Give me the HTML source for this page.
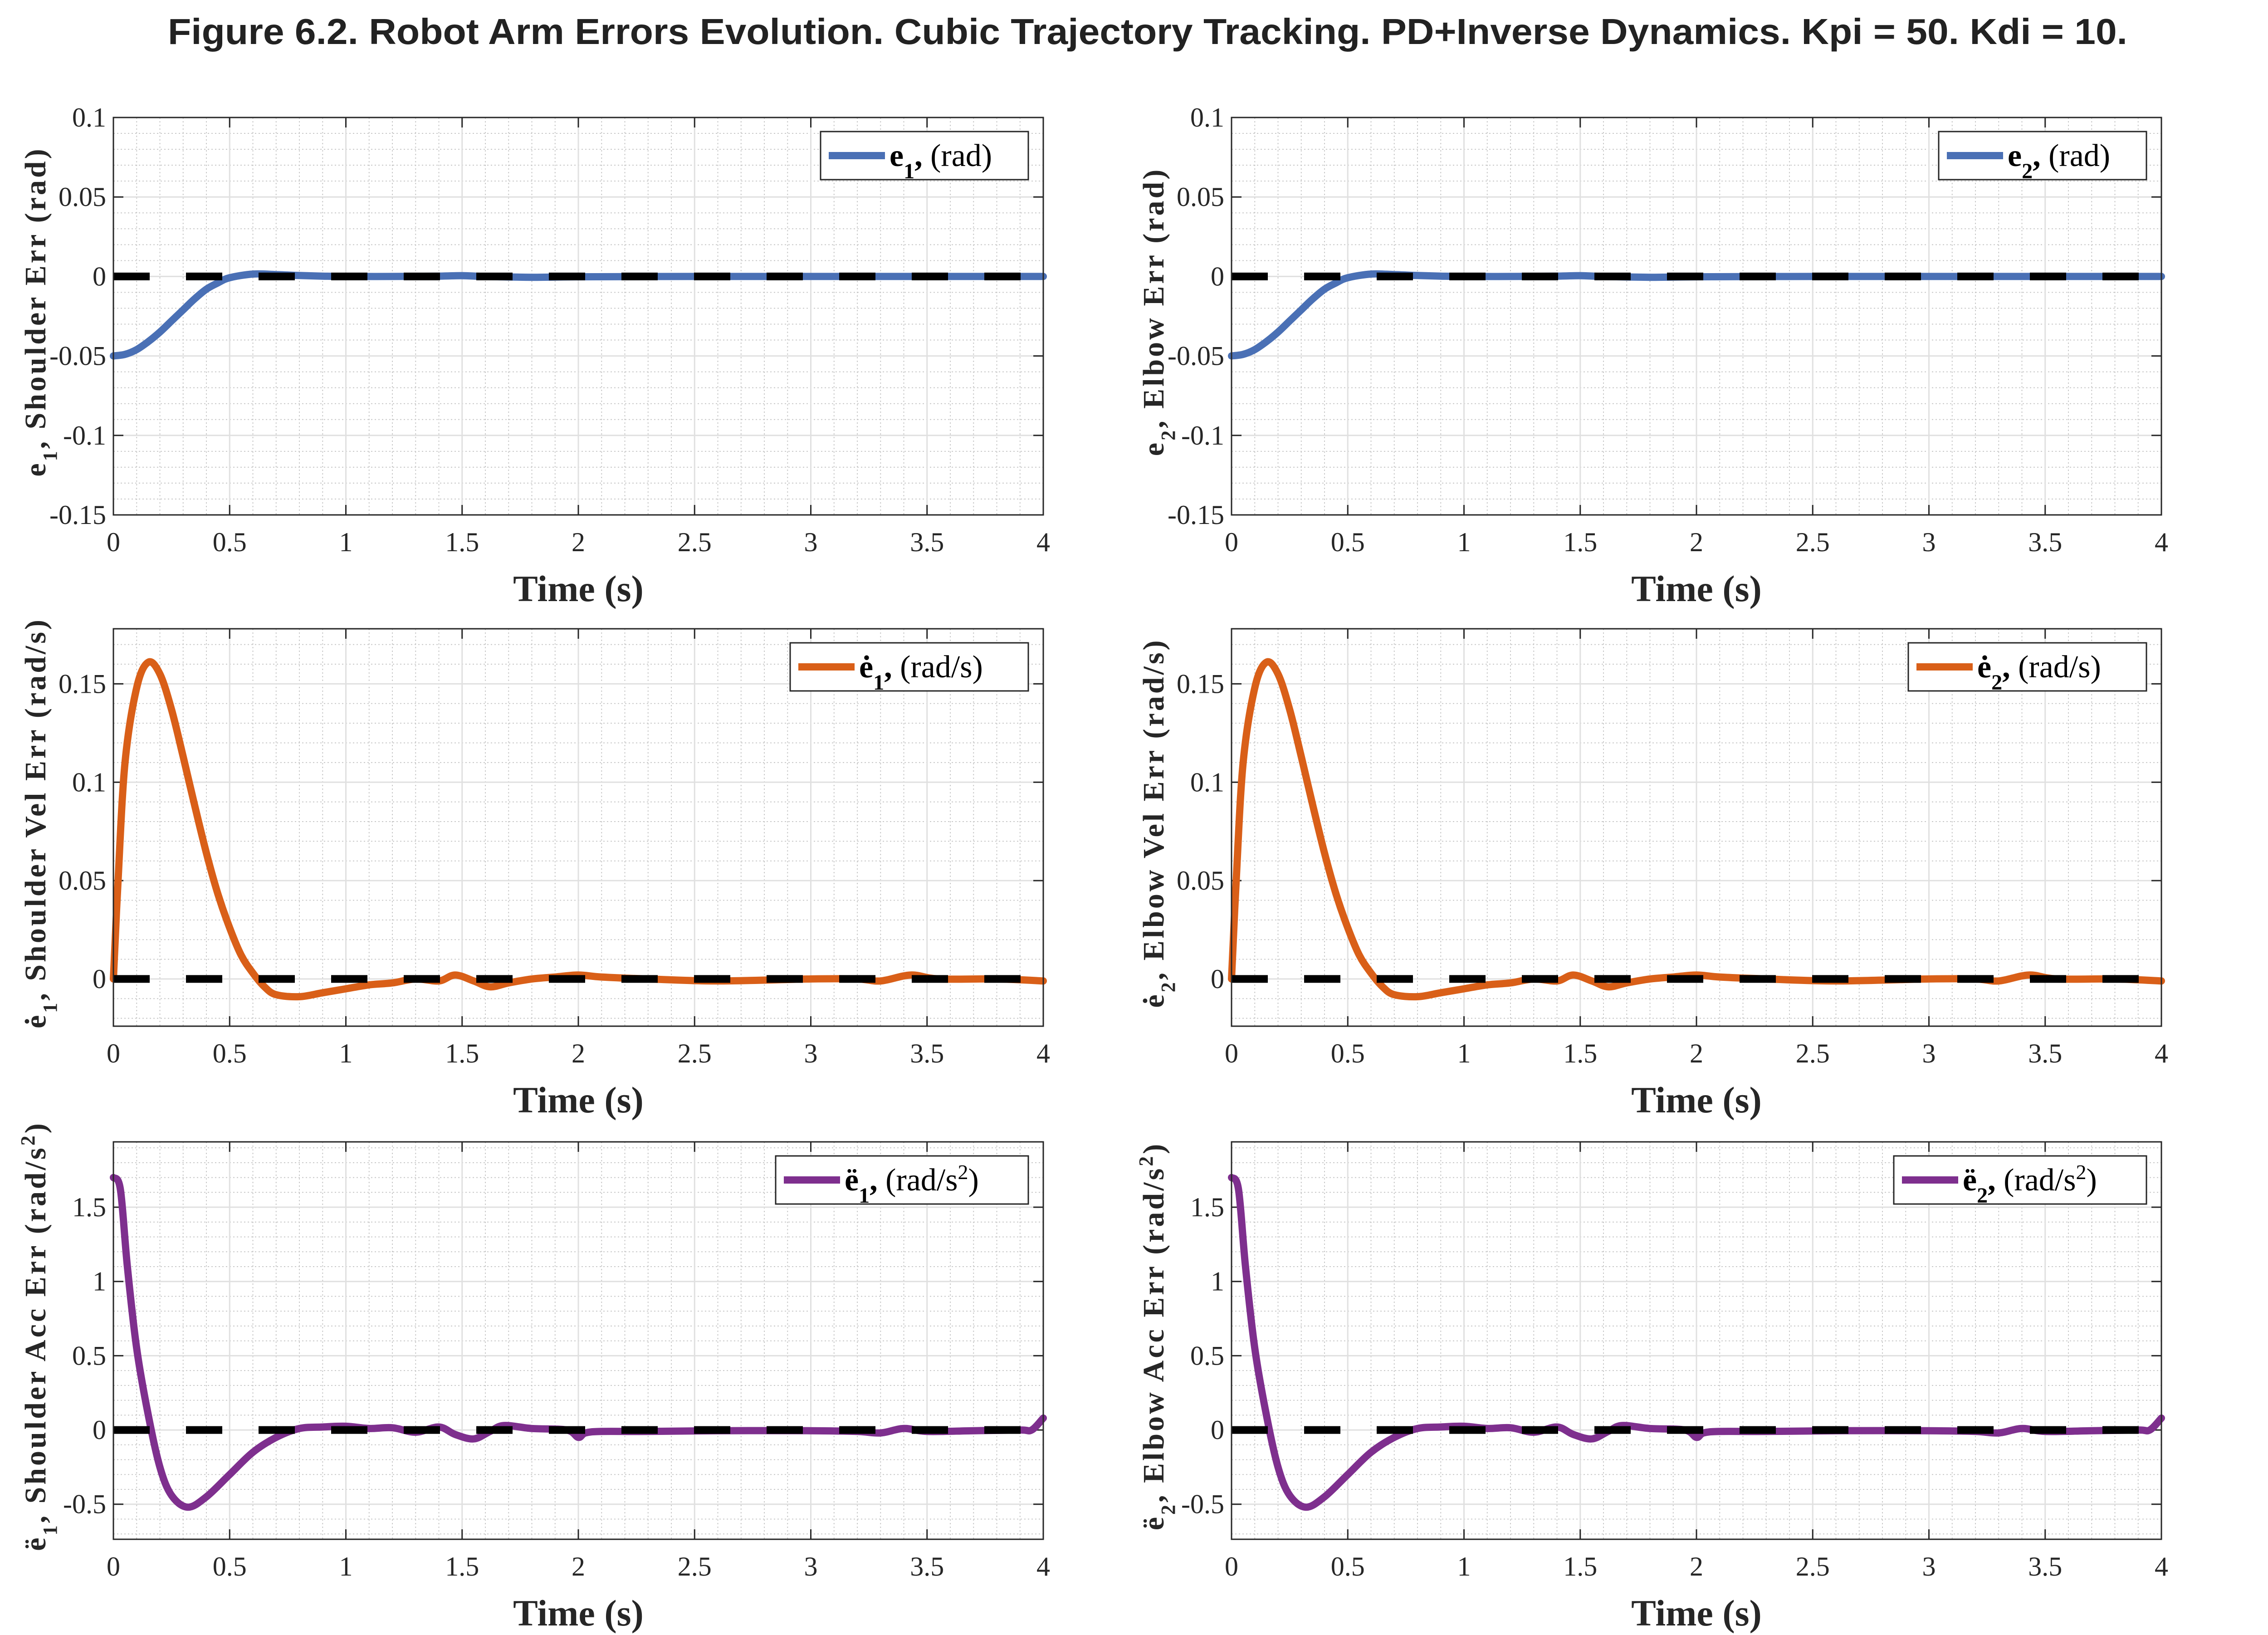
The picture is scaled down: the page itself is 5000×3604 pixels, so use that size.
<!DOCTYPE html>
<html><head><meta charset="utf-8"><style>
html,body{margin:0;padding:0;background:#fff}
svg{display:block}
</style></head><body>
<svg id="fig" width="5000" height="3604" viewBox="0 0 5000 3604" xmlns="http://www.w3.org/2000/svg">
<rect width="5000" height="3604" fill="#fff"/>
<text x="2530" y="97" text-anchor="middle" font-family="Liberation Sans, sans-serif" font-weight="bold" font-size="80" fill="#222" textLength="4320" lengthAdjust="spacingAndGlyphs">Figure 6.2. Robot Arm Errors Evolution. Cubic Trajectory Tracking. PD+Inverse Dynamics. Kpi = 50. Kdi = 10.</text>
</svg>
<script>
// ---- data ----
const posTime = [0,0.05,0.1,0.15,0.2,0.25,0.3,0.35,0.4,0.45,0.5,0.6,0.7,0.8,0.9,1.0,1.2,1.4,1.5,1.6,1.8,2.0,2.5,3.0,3.5,4.0];
const posErr  = [-0.05,-0.049,-0.046,-0.041,-0.035,-0.028,-0.021,-0.014,-0.008,-0.004,-0.0008,0.0015,0.0012,0.0006,0.0002,0,0,0.0002,0.0005,0,-0.0005,-0.0002,0,0,0,0];
const velTime = [0,0.02,0.05,0.1,0.15,0.2,0.25,0.3,0.35,0.4,0.45,0.5,0.55,0.6,0.65,0.7,0.8,0.9,1.0,1.1,1.2,1.3,1.4,1.47,1.55,1.62,1.7,1.8,1.9,2.0,2.1,2.3,2.6,3.0,3.2,3.3,3.43,3.55,3.8,4.0];
const velErr  = [0,0.05,0.11,0.148,0.161,0.155,0.137,0.113,0.088,0.064,0.043,0.026,0.012,0.003,-0.004,-0.008,-0.009,-0.007,-0.005,-0.003,-0.002,0,-0.001,0.002,-0.001,-0.004,-0.002,0,0.001,0.002,0.001,0,-0.001,0,0,-0.001,0.002,0,0,-0.001];
const accTime = [0,0.03,0.06,0.1,0.15,0.2,0.25,0.32,0.4,0.5,0.6,0.7,0.8,0.9,1.0,1.1,1.2,1.3,1.4,1.47,1.55,1.62,1.68,1.8,1.95,2.0,2.03,2.1,2.3,2.6,3.0,3.2,3.3,3.4,3.5,3.7,3.9,3.95,4.0];
const accErr  = [1.7,1.62,1.1,0.55,0.1,-0.25,-0.44,-0.52,-0.45,-0.3,-0.15,-0.05,0.01,0.02,0.025,0.01,0.015,-0.015,0.02,-0.03,-0.06,-0.01,0.03,0.01,0.0,-0.05,-0.02,-0.01,-0.01,-0.005,-0.005,-0.01,-0.02,0.01,-0.01,-0.005,0.0,0.0,0.08];
const xTicks = [0,0.5,1,1.5,2,2.5,3,3.5,4];
const xTickLabels = ["0","0.5","1","1.5","2","2.5","3","3.5","4"];
const posTicks = [-0.15,-0.1,-0.05,0,0.05,0.1];
const posTickLabels = ["-0.15","-0.1","-0.05","0","0.05","0.1"];
const velTicks = [0,0.05,0.1,0.15];
const velTickLabels = ["0","0.05","0.1","0.15"];
const accTicks = [-0.5,0,0.5,1,1.5];
const accTickLabels = ["-0.5","0","0.5","1","1.5"];

const NS="http://www.w3.org/2000/svg";
const svg=document.getElementById('fig');
function mk(tag,attrs,parent){const e=document.createElementNS(NS,tag);for(const k in attrs)e.setAttribute(k,attrs[k]);(parent||svg).appendChild(e);return e;}

function crPath(pts){
  let d="M"+pts[0][0].toFixed(1)+","+pts[0][1].toFixed(1);
  for(let i=0;i<pts.length-1;i++){
    const p0=pts[Math.max(i-1,0)],p1=pts[i],p2=pts[i+1],p3=pts[Math.min(i+2,pts.length-1)];
    const c1x=p1[0]+(p2[0]-p0[0])/6,c1y=p1[1]+(p2[1]-p0[1])/6;
    const c2x=p2[0]-(p3[0]-p1[0])/6,c2y=p2[1]-(p3[1]-p1[1])/6;
    d+=" C"+c1x.toFixed(1)+","+c1y.toFixed(1)+" "+c2x.toFixed(1)+","+c2y.toFixed(1)+" "+p2[0].toFixed(1)+","+p2[1].toFixed(1);
  }
  return d;
}

function panel(o){
  const g=mk('g',{});
  
  
  const L=o.x,T=o.y,W=o.w,H=o.h;
  const sx=v=>L+v/4*W;
  const sy=v=>T+H-(v-o.ymin)/(o.ymax-o.ymin)*H;
  for(let k=1;k<40;k++){ if(k%5===0)continue; const x=sx(k*0.1);
    const l=mk('line',{x1:x,x2:x,y1:T,y2:T+H,stroke:'#c8c8c8','stroke-width':2,'stroke-dasharray':'3 5'},g);
    }
  const m0=Math.ceil(o.ymin/o.minor-1e-9),m1=Math.floor(o.ymax/o.minor+1e-9);
  for(let k=m0;k<=m1;k++){ const v=k*o.minor; if(Math.abs(Math.round(v/o.major)*o.major-v)<1e-9)continue; const y=sy(v);
    const l=mk('line',{x1:L,x2:L+W,y1:y,y2:y,stroke:'#c8c8c8','stroke-width':2,'stroke-dasharray':'3 5'},g);
    }
  xTicks.forEach((v,i)=>{const x=sx(v);
    const l=mk('line',{x1:x,x2:x,y1:T,y2:T+H,stroke:'#e0e0e0','stroke-width':3},g);
    
    mk('line',{x1:x,x2:x,y1:T+H,y2:T+H-22,stroke:'#262626','stroke-width':3},g);
    mk('line',{x1:x,x2:x,y1:T,y2:T+22,stroke:'#262626','stroke-width':3},g);
    const t=mk('text',{x:x,y:T+H+80,'text-anchor':'middle','font-family':'Liberation Serif, serif','font-size':60,fill:'#262626'},g);
    t.textContent=xTickLabels[i];});
  o.ticks.forEach((v,i)=>{const y=sy(v);
    const l=mk('line',{x1:L,x2:L+W,y1:y,y2:y,stroke:'#e0e0e0','stroke-width':3},g);
    
    mk('line',{x1:L,x2:L+22,y1:y,y2:y,stroke:'#262626','stroke-width':3},g);
    mk('line',{x1:L+W,x2:L+W-22,y1:y,y2:y,stroke:'#262626','stroke-width':3},g);
    const t=mk('text',{x:L-16,y:y+20,'text-anchor':'end','font-family':'Liberation Serif, serif','font-size':60,fill:'#262626'},g);
    t.textContent=o.tickLabels[i];});
  const pts=o.t.map((t,i)=>[sx(t),sy(o.v[i])]);
  const p=mk('path',{d:crPath(pts),fill:'none',stroke:o.color,'stroke-width':16,'stroke-linejoin':'round','stroke-linecap':'round'},g);
  
  const z2=mk('line',{x1:L,x2:L+W,y1:sy(0),y2:sy(0),stroke:'#000','stroke-width':17,'stroke-dasharray':'80 80'},g);
  
  const b=mk('rect',{x:L,y:T,width:W,height:H,fill:'none',stroke:'#262626','stroke-width':3},g);
  
  const lg=mk('g',{},g);
  
  const lw=o.legW,lx=L+W-33-lw,ly=T+31;
  mk('rect',{x:lx,y:ly,width:lw,height:106,fill:'#fff',stroke:'#262626','stroke-width':3},lg);
  mk('line',{x1:lx+18,x2:lx+142,y1:ly+53,y2:ly+53,stroke:o.color,'stroke-width':16},lg);
  const lt=mk('text',{x:lx+152,y:ly+76,'font-family':'Liberation Serif, serif','font-size':70,fill:'#000'},lg);
  lt.innerHTML=o.legHTML;
  const xl=mk('text',{x:L+W/2,y:T+H+190,'text-anchor':'middle','font-family':'Liberation Serif, serif','font-weight':'bold','font-size':82,fill:'#262626'},g);
  xl.textContent='Time (s)';
  const cx=L-150,cy=T+H/2-10;
  const yl=mk('text',{x:cx,y:cy,transform:`rotate(-90 ${cx} ${cy})`,'text-anchor':'middle','font-family':'Liberation Serif, serif','font-weight':'bold','font-size':66,'letter-spacing':5,fill:'#262626'},g);
  yl.innerHTML=o.ylab;
}

const cols=[{x:250,j:1,n:'Shoulder'},{x:2715,j:2,n:'Elbow'}];
const rows=[
 {y:259,ymin:-0.15,ymax:0.1,major:0.05,minor:0.01,ticks:posTicks,tickLabels:posTickLabels,t:posTime,v:posErr,color:'#4a70b5',kind:'pos'},
 {y:1386,ymin:-0.024,ymax:0.178,major:0.05,minor:0.01,ticks:velTicks,tickLabels:velTickLabels,t:velTime,v:velErr,color:'#d95f18',kind:'vel'},
 {y:2517,ymin:-0.736,ymax:1.94,major:0.5,minor:0.1,ticks:accTicks,tickLabels:accTickLabels,t:accTime,v:accErr,color:'#7e2f8e',kind:'acc'}];
cols.forEach(c=>rows.forEach(r=>{
  const j=c.j; let legHTML,ylab,legW,sn;
  const sub=`<tspan baseline-shift="sub" font-size="48">${j}</tspan>`;
  const sub2=`<tspan baseline-shift="sub" font-size="44">${j}</tspan>`;
  if(r.kind==='pos'){legHTML=`<tspan font-weight="bold">e${sub},</tspan> (rad)`;ylab=`e${sub2}, ${c.n} Err (rad)`;legW=458;sn=`e${j}-position-error-line`;}
  if(r.kind==='vel'){legHTML=`<tspan font-weight="bold">ė${sub},</tspan> (rad/s)`;ylab=`ė${sub2}, ${c.n} Vel Err (rad/s)`;legW=525;sn=`e${j}-velocity-error-line`;}
  if(r.kind==='acc'){legHTML=`<tspan font-weight="bold">ë${sub},</tspan> (rad/s<tspan baseline-shift="super" font-size="46">2</tspan>)`;ylab=`ë${sub2}, ${c.n} Acc Err (rad/s<tspan baseline-shift="super" font-size="44">2</tspan>)`;legW=557;sn=`e${j}-acceleration-error-line`;}
  panel({name:`panel-${r.kind}-joint${j}`,x:c.x,y:r.y,w:2050,h:876,ymin:r.ymin,ymax:r.ymax,major:r.major,minor:r.minor,ticks:r.ticks,tickLabels:r.tickLabels,t:r.t,v:r.v,color:r.color,legHTML,ylab,legW,seriesName:sn});
}));
</script>
</body></html>
